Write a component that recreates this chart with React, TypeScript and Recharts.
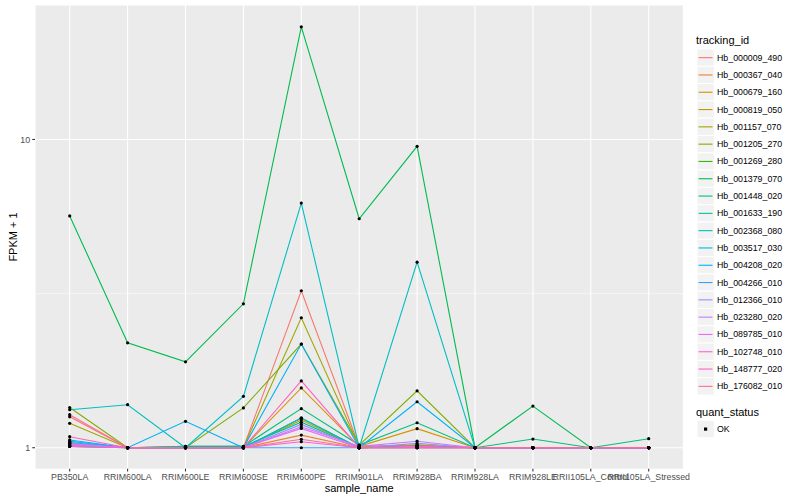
import { LineChart, Line, XAxis, YAxis, CartesianGrid } from 'recharts';

const FONT = '"Liberation Sans", Arial, Helvetica, sans-serif';

const SAMPLES = [
  'PB350LA', 'RRIM600LA', 'RRIM600LE', 'RRIM600SE', 'RRIM600PE', 'RRIM901LA',
  'RRIM928BA', 'RRIM928LA', 'RRIM928LE', 'RRII105LA_Control', 'RRII105LA_Stressed',
];

// FPKM + 1, one value per sample
const Hb_000009_490 = [1.26, 1, 1, 1, 3.23, 1.01, 1.02, 1, 1, 1, 1];
const Hb_000367_040 = [1.02, 1, 1, 1, 1.099, 1, 1.01, 1, 1, 1, 1];
const Hb_000679_160 = [1.04, 1, 1, 1, 1.563, 1.01, 1.153, 1, 1, 1, 1];
const Hb_000819_050 = [1.01, 1, 1, 1, 1.23, 1, 1.02, 1, 1, 1, 1];
const Hb_001157_070 = [1.2, 1, 1, 1, 2.64, 1.01, 1.01, 1, 1, 1, 1];
const Hb_001205_270 = [1.35, 1, 1, 1.346, 2.17, 1.02, 1.53, 1, 1, 1, 1];
const Hb_001269_280 = [1.02, 1, 1, 1, 1.246, 1, 1.01, 1, 1, 1, 1];
const Hb_001379_070 = [5.65, 2.19, 1.9, 2.93, 23.2, 5.53, 9.5, 1, 1.365, 1, 1];
const Hb_001448_020 = [1.03, 1, 1.01, 1.01, 1.339, 1.02, 1.205, 1, 1.067, 1, 1.07];
const Hb_001633_190 = [1.01, 1, 1.01, 1.01, 1.21, 1, 1.01, 1, 1, 1, 1];
const Hb_002368_080 = [1.328, 1.379, 1, 1.468, 6.22, 1, 4.0, 1, 1, 1, 1];
const Hb_003517_030 = [1.05, 1, 1, 1, 1.25, 1, 1.01, 1, 1, 1, 1];
const Hb_004208_020 = [1.06, 1, 1.218, 1, 2.17, 1, 1.41, 1, 1, 1, 1];
const Hb_004266_010 = [1.04, 1, 1, 1, 1.0, 1, 1, 1, 1, 1, 1];
const Hb_012366_010 = [1.03, 1, 1, 1, 1.19, 1, 1.033, 1, 1, 1, 1];
const Hb_023280_020 = [1.03, 1, 1, 1, 1.17, 1.01, 1.05, 1, 1, 1, 1];
const Hb_089785_010 = [1.02, 1, 1, 1, 1.155, 1, 1.01, 1, 1, 1, 1];
const Hb_102748_010 = [1.01, 1, 1, 1, 1.046, 1, 1, 1, 1, 1, 1];
const Hb_148777_020 = [1.086, 1, 1, 1, 1.647, 1, 1, 1, 1, 1, 1];
const Hb_176082_010 = [1.28, 1, 1, 1, 1.065, 1, 1, 1, 1, 1, 1];

const SERIES: Array<[string, number[], string]> = [
  ['Hb_000009_490', Hb_000009_490, '#F8766D'],
  ['Hb_000367_040', Hb_000367_040, '#EA8331'],
  ['Hb_000679_160', Hb_000679_160, '#D89000'],
  ['Hb_000819_050', Hb_000819_050, '#C09B00'],
  ['Hb_001157_070', Hb_001157_070, '#A3A500'],
  ['Hb_001205_270', Hb_001205_270, '#7CAE00'],
  ['Hb_001269_280', Hb_001269_280, '#39B600'],
  ['Hb_001379_070', Hb_001379_070, '#00BB4E'],
  ['Hb_001448_020', Hb_001448_020, '#00BF7D'],
  ['Hb_001633_190', Hb_001633_190, '#00C1A3'],
  ['Hb_002368_080', Hb_002368_080, '#00BFC4'],
  ['Hb_003517_030', Hb_003517_030, '#00BAE0'],
  ['Hb_004208_020', Hb_004208_020, '#00B0F6'],
  ['Hb_004266_010', Hb_004266_010, '#35A2FF'],
  ['Hb_012366_010', Hb_012366_010, '#9590FF'],
  ['Hb_023280_020', Hb_023280_020, '#C77CFF'],
  ['Hb_089785_010', Hb_089785_010, '#E76BF3'],
  ['Hb_102748_010', Hb_102748_010, '#FA62DB'],
  ['Hb_148777_020', Hb_148777_020, '#FF62BC'],
  ['Hb_176082_010', Hb_176082_010, '#FF6C91'],
];

const Y_TICKS = [1, 10];
const Y_MINOR = [3.1623];

const data = SAMPLES.map((s, i) => {
  const row: Record<string, string | number> = { sample: s };
  SERIES.forEach(([id, vals]) => { row[id] = vals[i]; });
  return row;
});

// plot panel edges in page pixels
const PANEL = { left: 35, right: 683.4, top: 5.5, bottom: 468.7 };

function LegendOverlay() {
  const keyTop = 49;
  const step = 17.3;
  return (
    <svg width={800} height={500} style={{ position: 'absolute', left: 0, top: 0, pointerEvents: 'none' }}>
      <text x={13} y={237} transform="rotate(-90 13 237)" textAnchor="middle" dominantBaseline="central"
        fontSize={11} fontFamily={FONT} fill="#000">FPKM + 1</text>
      <text x={(PANEL.left + PANEL.right) / 2} y={492} textAnchor="middle"
        fontSize={11} fontFamily={FONT} fill="#000">sample_name</text>

      <text x={696} y={44} fontSize={11} fontFamily={FONT} fill="#000">tracking_id</text>
      {SERIES.map(([id, , color], i) => {
        const y = keyTop + i * step;
        return (
          <g key={id}>
            <rect x={697} y={y} width={17.3} height={17.3} fill="#F2F2F2" stroke="#fff" strokeWidth={1} />
            <line x1={698.5} x2={712.5} y1={y + step / 2} y2={y + step / 2} stroke={color} strokeWidth={1.1} />
            <text x={717} y={y + step / 2} dominantBaseline="central" fontSize={8.8} fontFamily={FONT} fill="#000">{id}</text>
          </g>
        );
      })}
      <text x={696} y={416} fontSize={11} fontFamily={FONT} fill="#000">quant_status</text>
      <rect x={697} y={420.4} width={17.3} height={17.3} fill="#F2F2F2" stroke="#fff" strokeWidth={1} />
      <rect x={704} y={427.5} width={3.2} height={3.2} fill="#000" />
      <text x={717} y={429} dominantBaseline="central" fontSize={8.8} fontFamily={FONT} fill="#000">OK</text>
    </svg>
  );
}

export default function App() {
  return (
    <div style={{ position: 'absolute', left: 0, top: 0, width: 800, height: 500, background: '#fff' }}>
      <LineChart
        width={800}
        height={500}
        data={data}
        margin={{ top: PANEL.top, right: 800 - PANEL.right, bottom: 0, left: 0 }}
      >
        <CartesianGrid fill="#EBEBEB" stroke="#fff" strokeWidth={1.07} horizontalValues={Y_TICKS} />
        <CartesianGrid fill="none" stroke="#fff" strokeWidth={0.53} vertical={false} horizontalValues={Y_MINOR} />
        <XAxis
          dataKey="sample"
          type="category"
          scale="point"
          interval={0}
          padding={{ left: 34.7, right: 34.7 }}
          height={500 - PANEL.bottom}
          axisLine={false}
          tickLine={{ stroke: '#333333', strokeWidth: 1.07 }}
          tickSize={2.75}
          tickMargin={2}
          tick={{ fill: '#4D4D4D', fontSize: 8.8, fontFamily: FONT }}
        />
        <YAxis
          type="number"
          scale="log"
          domain={[0.855, 27.2]}
          allowDataOverflow
          ticks={Y_TICKS}
          width={PANEL.left}
          axisLine={false}
          tickLine={{ stroke: '#333333', strokeWidth: 1.07 }}
          tickSize={2.75}
          tickMargin={2.2}
          tick={{ fill: '#4D4D4D', fontSize: 8.8, fontFamily: FONT }}
        />
        {SERIES.map(([id, , color]) => (
          <Line
            key={id}
            dataKey={id}
            type="linear"
            stroke={color}
            strokeWidth={1.1}
            dot={false}
            activeDot={false}
            isAnimationActive={false}
          />
        ))}
        {SERIES.map(([id]) => (
          <Line
            key={id + '_pts'}
            dataKey={id}
            type="linear"
            stroke="none"
            dot={{ r: 1.6, fill: '#000', stroke: 'none' }}
            activeDot={false}
            legendType="none"
            isAnimationActive={false}
          />
        ))}
      </LineChart>
      <LegendOverlay />
    </div>
  );
}
